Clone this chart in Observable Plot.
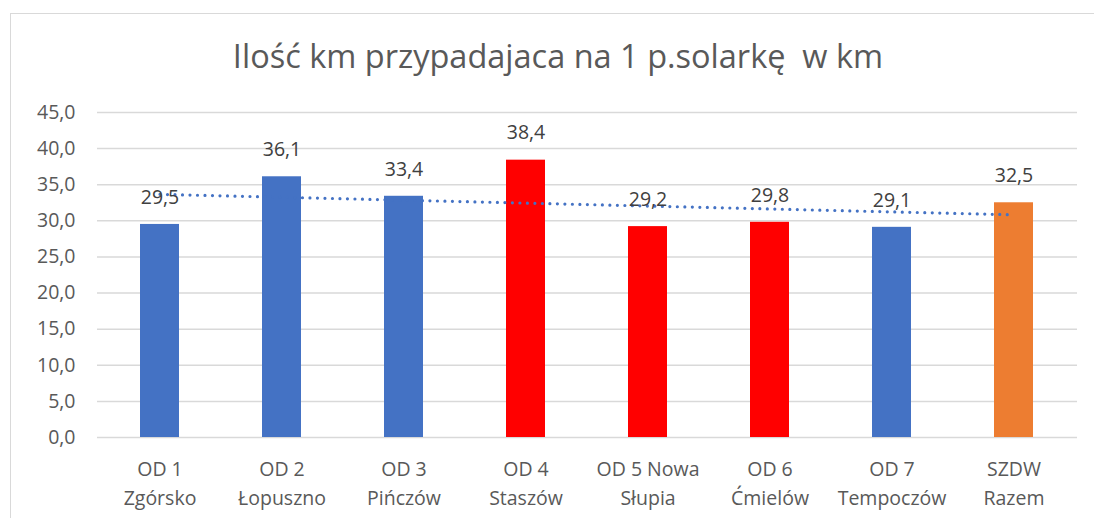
<!DOCTYPE html>
<html>
<head>
<meta charset="utf-8">
<script src="https://cdn.jsdelivr.net/npm/d3@7"></script>
<script src="https://cdn.jsdelivr.net/npm/@observablehq/plot@0.6"></script>
<style>
  html, body { margin: 0; padding: 0; background: #fff; overflow: hidden; width: 1094px; height: 518px; }
  #box { position: absolute; left: 10px; top: 13px; width: 1100px; height: 520px; border: 1.5px solid #d9d9d9; box-sizing: border-box; background: #fff; overflow: hidden; }
  #title { height: 80px; width: 1094px; text-align: center; font-family: "Open Sans", sans-serif; font-size: 32.5px; color: #595959; line-height: 84px; white-space: pre; }
  svg { display: block; }
</style>
</head>
<body>
<div id="box">
  <div id="title">Ilość km przypadajaca na 1 p.solarkę  w km</div>
  <div id="chart"></div>
</div>
<script>
const codes = ["OD 1", "OD 2", "OD 3", "OD 4", "OD 5 Nowa", "OD 6", "OD 7", "SZDW"];
const names = ["Zgórsko", "Łopuszno", "Pińczów", "Staszów", "Słupia", "Ćmielów", "Tempoczów", "Razem"];
const values = [29.5, 36.1, 33.4, 38.4, 29.2, 29.8, 29.1, 32.5];
const colors = ["#4472C4", "#4472C4", "#4472C4", "#FF0000", "#FF0000", "#FF0000", "#4472C4", "#ED7D31"];
const yTicks = [0, 5, 10, 15, 20, 25, 30, 35, 40, 45];

const data = codes.map((c, i) => ({ key: c + " " + names[i], code: c, name: names[i], value: values[i], color: colors[i], idx: i + 1 }));

// linear trendline (least squares over category index)
const n = data.length;
const mx = d3.mean(data, d => d.idx), my = d3.mean(data, d => d.value);
const slope = d3.sum(data, d => (d.idx - mx) * (d.value - my)) / d3.sum(data, d => (d.idx - mx) ** 2);
const trend = [data[0], data[n - 1]].map(d => ({ key: d.key, t: my + slope * (d.idx - mx) }));

const fmt = v => v.toFixed(1).replace(".", ",");
const font = "Open Sans, sans-serif";
const fs = 19.5;

const chart = Plot.plot({
  width: 1094,
  height: 425,
  marginTop: 18,
  marginBottom: 82,
  marginLeft: 86,
  marginRight: 28,
  style: { fontFamily: font, color: "#595959", background: "transparent", overflow: "visible" },
  x: { domain: data.map(d => d.key), paddingInner: 0.68, paddingOuter: 0.34, axis: null },
  y: { domain: [0, 45], axis: null },
  marks: [
    Plot.ruleY(yTicks, { stroke: "#d9d9d9", strokeWidth: 1.5 }),
    Plot.text(yTicks, { y: d => d, text: d => fmt(d), frameAnchor: "left", textAnchor: "end", dx: -22, fontSize: fs, fill: "#595959" }),
    Plot.barY(data, { x: "key", y: "value", fill: "color" }),
    Plot.line(trend, { x: "key", y: "t", stroke: "#4472C4", strokeWidth: 3.2, strokeDasharray: "0,7.5", strokeLinecap: "round" }),
    Plot.text(data, { x: "key", y: "value", text: d => fmt(d.value), dy: -27, fontSize: fs, fill: "#404040" }),
    Plot.text(data, { x: "key", y: 0, text: "code", dy: 32, fontSize: fs, fill: "#595959" }),
    Plot.text(data, { x: "key", y: 0, text: "name", dy: 61, fontSize: fs, fill: "#595959" })
  ]
});
document.getElementById("chart").appendChild(chart);
</script>
</body>
</html>
